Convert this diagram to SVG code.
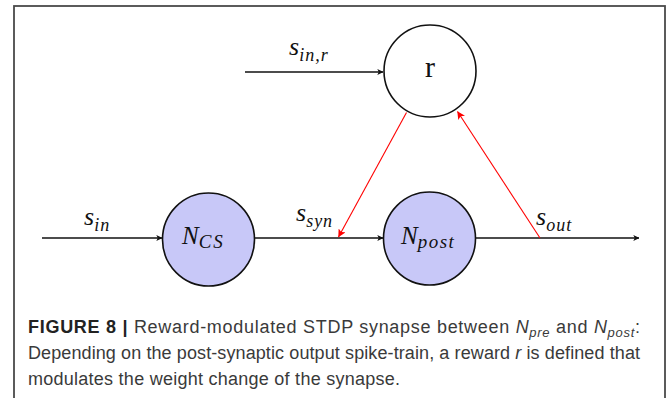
<svg xmlns="http://www.w3.org/2000/svg" width="670" height="398" viewBox="0 0 670 398">
<style>
.node{stroke:#111;stroke-width:1.6}
.fill{fill:#c8c8f8}
.empty{fill:#fff}
.m{font-family:"Liberation Serif","DejaVu Serif",serif;font-style:italic;fill:#111}
.sub{font-size:18px;letter-spacing:1px}
.rm{font-family:"Liberation Serif","DejaVu Serif",serif;fill:#111}
.edge{stroke:#111;stroke-width:1.5;fill:none}
.red{stroke:#f00;stroke-width:1.1;fill:none}
.cap{font-family:"Liberation Sans","Arial",sans-serif;font-size:18px;fill:#3a3a3a}
</style>
<defs>
<marker id="ab" viewBox="0 0 10 10" refX="9.5" refY="5" markerWidth="6" markerHeight="6" markerUnits="userSpaceOnUse" orient="auto">
<path d="M0,0 L10,5 L0,10 L2.5,5 Z" fill="#111"/>
</marker>
<marker id="ar" viewBox="0 0 10 10" refX="9.5" refY="5" markerWidth="8" markerHeight="8" markerUnits="userSpaceOnUse" orient="auto">
<path d="M0,0 L10,5 L0,10 L2.5,5 Z" fill="#f00"/>
</marker>
</defs>
<rect x="0" y="0" width="670" height="398" fill="#fff"/>
<rect x="14" y="6" width="651" height="410" fill="none" stroke="#4a4a4a" stroke-width="1.8"/>

<g id="connectors">
<line class="edge" x1="245" y1="72" x2="383" y2="72" marker-end="url(#ab)"/>
<line class="edge" x1="42" y1="238" x2="162" y2="238" marker-end="url(#ab)"/>
<line class="edge" x1="254" y1="238" x2="383" y2="238" marker-end="url(#ab)"/>
<line class="edge" x1="475" y1="238" x2="639" y2="238" marker-end="url(#ab)"/>
<line class="red" x1="406.5" y1="112.5" x2="338.5" y2="237" marker-end="url(#ar)"/>
<line class="red" x1="540" y1="238" x2="457.5" y2="111.5" marker-end="url(#ar)"/>
<text class="m" x="289" y="55" font-size="26">s<tspan class="sub" dy="6">in,r</tspan></text>
<text class="m" x="84" y="225" font-size="26">s<tspan class="sub" dy="6">in</tspan></text>
<text class="m" x="296" y="221" font-size="26">s<tspan class="sub" dy="6">syn</tspan></text>
<text class="m" x="536" y="225" font-size="26">s<tspan class="sub" dy="6">out</tspan></text>
</g>

<g id="node-r">
<circle class="node empty" cx="430" cy="71" r="46"/>
<text class="rm" x="430" y="77" font-size="30" text-anchor="middle">r</text>
</g>

<g id="node-ncs">
<ellipse class="node fill" cx="208.5" cy="239.5" rx="46" ry="46.5"/>
<text class="m" x="182" y="244" font-size="25">N<tspan font-size="19" letter-spacing="2" dy="4">CS</tspan></text>
</g>

<g id="node-npost">
<ellipse class="node fill" cx="429.5" cy="238.5" rx="46" ry="46.5"/>
<text class="m" x="401" y="244" font-size="25">N<tspan font-size="19" letter-spacing="1.5" dy="4">post</tspan></text>
</g>

<g id="caption">
<text class="cap" x="28" y="333" textLength="612" lengthAdjust="spacing"><tspan font-weight="bold" fill="#222">FIGURE 8 |</tspan> Reward-modulated STDP synapse between <tspan font-style="italic">N</tspan><tspan font-style="italic" font-size="13" dy="4">pre</tspan><tspan dy="-4"> and </tspan><tspan font-style="italic">N</tspan><tspan font-style="italic" font-size="13" dy="4">post</tspan><tspan dy="-4">:</tspan></text>
<text class="cap" x="28" y="359" textLength="612" lengthAdjust="spacing">Depending on the post-synaptic output spike-train, a reward <tspan font-style="italic">r</tspan> is defined that</text>
<text class="cap" x="28" y="385" textLength="372" lengthAdjust="spacing">modulates the weight change of the synapse.</text>
</g>
</svg>
